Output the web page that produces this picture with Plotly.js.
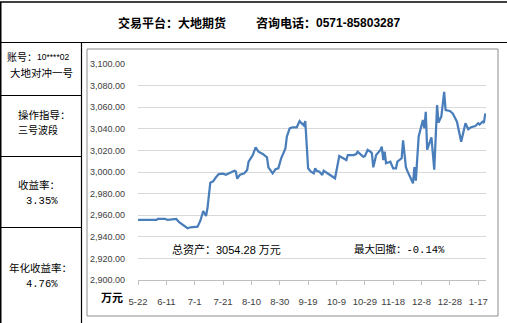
<!DOCTYPE html>
<html>
<head>
<meta charset="utf-8">
<script src="https://cdn.plot.ly/plotly-3.0.1.min.js"></script>
<style>
html,body{margin:0;padding:0;background:#fff;}
#chart{width:507px;height:323px;}
</style>
</head>
<body>
<div id="chart"></div>
<script>
// ---- data ----
var dates = [
'2013-05-22','2013-06-04','2013-06-05','2013-06-10','2013-06-12','2013-06-17','2013-06-18','2013-06-20','2013-06-24','2013-06-26',
'2013-06-28','2013-07-03','2013-07-05','2013-07-07','2013-07-09','2013-07-10','2013-07-12','2013-07-14','2013-07-16','2013-07-18',
'2013-07-21','2013-07-23','2013-07-26','2013-07-29','2013-07-30','2013-07-31','2013-08-02','2013-08-05','2013-08-07','2013-08-08',
'2013-08-11','2013-08-13','2013-08-15','2013-08-18','2013-08-21','2013-08-22','2013-08-25','2013-08-27','2013-08-29','2013-08-31',
'2013-09-03','2013-09-04','2013-09-06','2013-09-08','2013-09-11','2013-09-13','2013-09-14','2013-09-16','2013-09-17','2013-09-19',
'2013-09-21','2013-09-23','2013-09-24','2013-09-25','2013-09-27','2013-09-29','2013-09-30','2013-10-03','2013-10-06','2013-10-08',
'2013-10-11','2013-10-14','2013-10-16','2013-10-17','2013-10-21','2013-10-23','2013-10-24','2013-10-26','2013-10-28','2013-10-29',
'2013-10-31','2013-11-02','2013-11-03','2013-11-04','2013-11-06','2013-11-09','2013-11-10','2013-11-11','2013-11-12','2013-11-13',
'2013-11-16','2013-11-18','2013-11-20','2013-11-21','2013-11-24','2013-11-25','2013-11-27','2013-11-28','2013-11-30','2013-12-02',
'2013-12-03','2013-12-04','2013-12-06','2013-12-08','2013-12-09','2013-12-10','2013-12-11','2013-12-12','2013-12-15','2013-12-17',
'2013-12-19','2013-12-20','2013-12-22','2013-12-24','2013-12-25','2013-12-28','2013-12-30','2014-01-02','2014-01-05','2014-01-08',
'2014-01-10','2014-01-12','2014-01-15','2014-01-17','2014-01-18','2014-01-20','2014-01-21','2014-01-22'
];
var assets = [
2955.6,2955.6,2956.5,2956.5,2955.6,2955.8,2956.5,2953.5,2949.4,2947.9,
2948.8,2949.4,2954.9,2963.9,2959.3,2966.4,2990.1,2991.4,2995.1,2998.1,
2998.5,2997.5,2999.4,3001.2,3000.5,2993.8,2997.5,2998.8,3001.9,3009.5,
3015.7,3022.8,3018.8,3016.7,3013.6,3004.3,2998.8,3002.5,3003.4,3012.7,
3021.9,3032.7,3040.4,3041.4,3041.4,3047.2,3045.7,3043.2,3047.2,3003.4,
3000.3,2998.8,3003.4,3001.2,3000.3,2997.2,3001.2,2998.8,2996.3,2994.2,
3014.8,3012.7,3011.1,3015.7,3015.7,3016.7,3018.8,3016.4,3014.2,3014.5,
3020.4,3018.8,3017.3,3004.3,3015.7,3020.4,3023.4,3011.1,3018.8,3008.1,
3009.5,3003.4,3003.4,3009.5,3012.7,3029.3,3004.5,3001.0,2995.6,2989.5,
3004.6,2992.0,3033.0,3043.5,3048.1,3040.4,3055.8,3020.7,3032.0,3002.2,
3062.0,3045.8,3051.5,3074.3,3057.4,3056.5,3054.3,3046.6,3028.1,3045.1,
3039.5,3041.5,3042.6,3045.1,3044.0,3046.6,3045.5,3054.28
];
var tickDates = ['2013-05-22','2013-06-11','2013-07-01','2013-07-21','2013-08-10','2013-08-30','2013-09-19',
                 '2013-10-09','2013-10-29','2013-11-18','2013-12-08','2013-12-28','2014-01-17'];
var tickLabels = ['5-22','6-11','7-1','7-21','8-10','8-30','9-19','10-9','10-29','11-18','12-8','12-28','1-17'];
var headerLeft = '交易平台：大地期货';
var headerRightLabel = '咨询电话：';
var headerPhone = '0571-85803287';
var accountLabel = '账号：';
var accountNo = '10****02';
var cellTexts = [
  ['', '大地对冲一号'],
  ['操作指导：', '三号波段'],
  ['收益率：', '3.35%'],
  ['年化收益率：', '4.76%']
];
var totalAssetText = '总资产：3054.28 万元';
var drawdownText = '最大回撤：-0.14%';
var unitText = '万元';

// ---- layout helpers (pixel -> paper) ----
var L = 138, R = 486, T = 64, B = 280;
function px(x){ return (x - L) / (R - L); }
function py(y){ return (B - y) / (B - T); }
function hline(y, x0, x1, color, w){
  return {type:'line', xref:'paper', yref:'paper', x0:px(x0), x1:px(x1), y0:py(y), y1:py(y),
          line:{color:color, width:w}, layer:'above'};
}
function vline(x, y0, y1, color, w){
  return {type:'line', xref:'paper', yref:'paper', x0:px(x), x1:px(x), y0:py(y0), y1:py(y1),
          line:{color:color, width:w}, layer:'above'};
}
function txt(text, x, y, xanchor, size, opts){
  opts = opts || {};
  return {xref:'paper', yref:'paper', x:px(x), y:py(y), xanchor:xanchor, yanchor:'middle',
          text:text, showarrow:false,
          font:{family:opts.family || 'Liberation Mono, Noto Sans CJK SC', size:size, color:opts.color || '#000'}};
}

var shapes = [
  hline(2, 0, 507, '#000', 1.5),
  vline(0.75, 2, 323, '#000', 1.5),
  hline(42.5, 0, 507, '#000', 1.2),
  vline(81.5, 42.5, 323, '#000', 1.2),
  hline(95.5, 0, 81.5, '#000', 1.2),
  hline(156.5, 0, 81.5, '#000', 1.2),
  hline(227.5, 0, 81.5, '#000', 1.2),
  {type:'rect', xref:'paper', yref:'paper', x0:px(87), x1:px(498), y0:py(49), y1:py(316),
   line:{color:'#8c8c8c', width:1}, layer:'below'}
];

var annotations = [
  txt('<b>' + headerLeft + '</b>', 116, 22, 'left', 12, {family:'Noto Sans CJK SC'}),
  txt('<b>' + headerRightLabel + '</b>', 254, 22, 'left', 12, {family:'Noto Sans CJK SC'}),
  txt('<b>' + headerPhone + '</b>', 314, 22.5, 'left', 12, {family:'Liberation Sans'}),
  txt(accountLabel, 5, 57, 'left', 10, {family:'Noto Sans CJK SC'}),
  txt(accountNo, 35, 57, 'left', 8.5, {family:'Liberation Sans'}),
  txt(cellTexts[0][1], 41, 73, 'center', 10.5),
  txt(cellTexts[1][0], 16, 115, 'left', 10.5),
  txt(cellTexts[1][1], 16, 130, 'left', 10),
  txt(cellTexts[2][0], 16, 185.5, 'left', 10.5),
  txt(cellTexts[2][1], 24, 201, 'left', 10.5),
  txt(cellTexts[3][0], 7, 268, 'left', 10.5),
  txt(cellTexts[3][1], 24, 284, 'left', 10.5),
  txt('<b>' + unitText + '</b>', 99, 297, 'left', 11, {family:'Noto Sans CJK SC'}),
  txt(totalAssetText, 170, 249, 'left', 11, {family:'Liberation Sans, Noto Sans CJK SC'}),
  txt(drawdownText, 352, 249, 'left', 10.5, {family:'Liberation Mono, Noto Sans CJK SC'})
];

var trace = {
  x: dates, y: assets, type:'scatter', mode:'lines',
  line:{color:'#4a7ebb', width:2.25},
  hoverinfo:'skip', showlegend:false
};

var layout = {
  width:507, height:323,
  margin:{l:L, r:507-R, t:T, b:323-B, pad:0},
  paper_bgcolor:'#ffffff', plot_bgcolor:'#ffffff',
  font:{family:'Liberation Sans, Noto Sans CJK SC', color:'#404040', size:9},
  showlegend:false,
  xaxis:{
    type:'date', range:['2013-05-22','2014-01-22 12:00'],
    tickmode:'array', tickvals:tickDates, ticktext:tickLabels,
    ticks:'outside', ticklen:4, tickcolor:'#bfbfbf', tickwidth:1,
    showline:true, linecolor:'#bfbfbf', linewidth:1,
    showgrid:false, zeroline:false,
    tickfont:{family:'Liberation Sans', size:9.5, color:'#404040'},
    ticklabelstandoff:9, fixedrange:true
  },
  yaxis:{
    range:[2900,3100], tick0:2900, dtick:20, tickformat:',.2f',
    showgrid:true, gridcolor:'#d9d9d9', gridwidth:1,
    showline:false, zeroline:false, ticks:'',
    tickfont:{family:'Liberation Sans', size:9, color:'#404040'},
    ticklabelstandoff:12, fixedrange:true
  },
  shapes:shapes,
  annotations:annotations
};

Plotly.newPlot('chart', [trace], layout, {staticPlot:true, displayModeBar:false});
</script>
</body>
</html>
